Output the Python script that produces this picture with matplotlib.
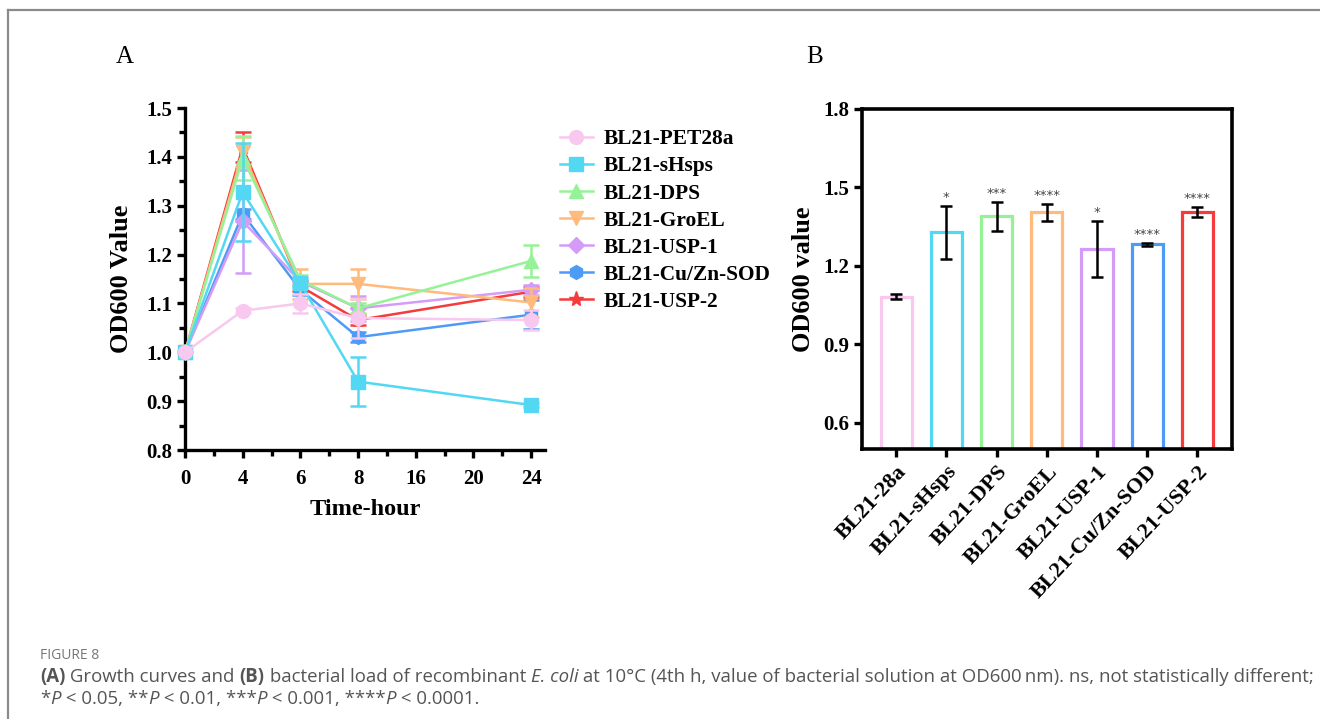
import matplotlib
matplotlib.use("Agg")
import matplotlib.pyplot as plt
import numpy as np
from matplotlib.lines import Line2D

# ---------------- data ----------------
time_labels = ["0", "4", "6", "8", "16", "20", "24"]
time_idx = [0, 1, 2, 3, 6]          # positions of measured times on categorical axis

series_names = ["BL21-PET28a", "BL21-sHsps", "BL21-DPS", "BL21-GroEL",
                "BL21-USP-1", "BL21-Cu/Zn-SOD", "BL21-USP-2"]
pet28a = [1.00, 1.085, 1.100, 1.070, 1.066]
shsps  = [1.00, 1.328, 1.141, 0.940, 0.892]
dps    = [1.00, 1.398, 1.148, 1.090, 1.187]
groel  = [1.00, 1.410, 1.140, 1.140, 1.102]
usp1   = [1.00, 1.268, 1.145, 1.090, 1.128]
sod    = [1.00, 1.283, 1.128, 1.031, 1.077]
usp2   = [1.00, 1.420, 1.135, 1.066, 1.124]

pet28a_err = [0.0, 0.005, 0.020, 0.040, 0.020]
shsps_err  = [0.0, 0.100, 0.010, 0.050, 0.005]
dps_err    = [0.0, 0.045, 0.010, 0.010, 0.032]
groel_err  = [0.0, 0.030, 0.030, 0.030, 0.030]
usp1_err   = [0.0, 0.105, 0.010, 0.025, 0.010]
sod_err    = [0.0, 0.010, 0.010, 0.010, 0.030]
usp2_err   = [0.0, 0.030, 0.010, 0.010, 0.010]

bar_labels = ["BL21-28a", "BL21-sHsps", "BL21-DPS", "BL21-GroEL",
              "BL21-USP-1", "BL21-Cu/Zn-SOD", "BL21-USP-2"]
bar_values = [1.082, 1.328, 1.390, 1.405, 1.264, 1.282, 1.406]
bar_errors = [0.010, 0.102, 0.055, 0.032, 0.106, 0.006, 0.018]
bar_sig    = ["", "*", "***", "****", "*", "****", "****"]

colors = ["#F8C8EE", "#52D8F2", "#96F296", "#FFBA7C", "#D49CF7", "#4E9BF7", "#F53B3B"]
markers = ["o", "s", "^", "v", "D", "h", "*"]
msizes = [10, 10, 10, 10, 8, 10, 11]

# ---------------- figure ----------------
W, H = 1320, 719
fig = plt.figure(figsize=(W / 100, H / 100), dpi=100)
serif = "Liberation Serif"

# frame lines (top and left)
fig.add_artist(Line2D([8/W, 1.0], [1 - 10/H, 1 - 10/H], color="#8a8a8a", lw=1.6))
fig.add_artist(Line2D([8/W, 8/W], [0.0, 1 - 10/H], color="#8a8a8a", lw=1.6))

# ---------------- panel A ----------------
axA = fig.add_axes([185/W, 1 - 450/H, (545-185)/W, (450-108)/H])
all_y = [pet28a, shsps, dps, groel, usp1, sod, usp2]
all_e = [pet28a_err, shsps_err, dps_err, groel_err, usp1_err, sod_err, usp2_err]
order = [6, 5, 4, 3, 2, 1, 0]
handles = {}
for z, i in enumerate(order):
    eb = axA.errorbar(time_idx, all_y[i], yerr=all_e[i], color=colors[i], lw=1.8,
                      marker=markers[i], markersize=msizes[i], capsize=5.5, capthick=1.8,
                      elinewidth=1.8, clip_on=False, zorder=3 + z)
    for art in eb.get_children():
        try:
            art.set_clip_on(False)
        except Exception:
            pass
    handles[i] = Line2D([], [], color=colors[i], marker=markers[i], markersize=msizes[i], lw=1.8)

axA.set_xlim(0, 6.24)
axA.set_ylim(0.8, 1.5)
axA.set_xticks(range(len(time_labels)))
axA.set_xticklabels(time_labels)
axA.set_xticks(np.arange(0.5, 6.5, 0.5), minor=True)
axA.set_yticks(np.round(np.arange(0.8, 1.51, 0.1), 1))
axA.set_yticks(np.arange(0.85, 1.5, 0.1), minor=True)
axA.yaxis.set_major_formatter(matplotlib.ticker.FormatStrFormatter("%.1f"))
for s in ["top", "right"]:
    axA.spines[s].set_visible(False)
for s in ["left", "bottom"]:
    axA.spines[s].set_linewidth(2.4)
axA.tick_params(which="major", length=6, width=2.4, direction="out")
axA.tick_params(axis="x", which="major", pad=8)
axA.tick_params(axis="y", which="major", pad=3)
axA.tick_params(which="minor", length=4, width=2.4, direction="out")
for lab in axA.get_xticklabels() + axA.get_yticklabels():
    lab.set_fontfamily(serif)
    lab.set_fontweight("bold")
    lab.set_fontsize(15)
axA.set_xlabel("Time-hour", fontfamily=serif, fontweight="bold", fontsize=17.5, labelpad=7)
axA.set_ylabel("OD600 Value", fontfamily=serif, fontweight="bold", fontsize=19, labelpad=10)

leg = fig.legend([handles[i] for i in range(7)], series_names,
                 loc="upper left", bbox_to_anchor=(554/W, 1 - 123/H),
                 frameon=False, handlelength=1.5, handletextpad=0.5, labelspacing=0.33,
                 borderaxespad=0, borderpad=0.3,
                 prop={"family": serif, "weight": "bold", "size": 15.4})

# ---------------- panel B ----------------
axB = fig.add_axes([862/W, 1 - 449/H, (1232-862)/W, (449-109)/H])
xb = np.arange(len(bar_labels))
axB.bar(xb, bar_values, width=0.62, bottom=0, fill=False, edgecolor=colors, linewidth=2.3, zorder=2)
axB.errorbar(xb, bar_values, yerr=bar_errors, fmt="none", ecolor="black",
             elinewidth=1.8, capsize=4.5, capthick=1.8, zorder=3)
for x, v, e, s in zip(xb, bar_values, bar_errors, bar_sig):
    if s:
        axB.text(x, v + e + 0.008, s, ha="center", va="bottom", fontsize=9.5,
                 color="#444444", fontfamily="DejaVu Sans")
axB.set_xlim(-0.68, 6.69)
axB.set_ylim(0.5, 1.8)
axB.set_yticks([0.6, 0.9, 1.2, 1.5, 1.8])
axB.yaxis.set_major_formatter(matplotlib.ticker.FormatStrFormatter("%.1f"))
axB.set_xticks(xb)
axB.set_xticklabels(bar_labels, rotation=47, ha="right", rotation_mode="anchor")
for s in axB.spines.values():
    s.set_linewidth(2.6)
axB.tick_params(length=6, width=2.4, direction="out", pad=3)
for lab in axB.get_yticklabels():
    lab.set_fontfamily(serif)
    lab.set_fontweight("bold")
    lab.set_fontsize(15)
for lab in axB.get_xticklabels():
    lab.set_fontfamily(serif)
    lab.set_fontweight("bold")
    lab.set_fontsize(16)
axB.set_ylabel("OD600 value", fontfamily=serif, fontweight="bold", fontsize=19, labelpad=6)

# panel letters
fig.text(125/W, 1 - 57/H, "A", fontfamily=serif, fontsize=18, ha="center", va="center")
fig.text(815/W, 1 - 57/H, "B", fontfamily=serif, fontsize=18, ha="center", va="center")

# ---------------- caption ----------------
capfont = "Open Sans"
capcol = "#555555"
fig.text(40/W, 1 - 659/H, "FIGURE 8", fontfamily=capfont, fontsize=10,
         color="#777777", va="baseline", ha="left")

renderer = fig.canvas.get_renderer()

def chain(pieces, x_px, y_px, size):
    x = x_px
    for txt, style in pieces:
        kw = dict(fontfamily=capfont, fontsize=size, color=capcol, va="baseline", ha="left")
        if style == "b":
            kw["fontweight"] = "bold"
        elif style == "i":
            kw["fontstyle"] = "italic"
        t = fig.text(x / W, 1 - y_px / H, txt, **kw)
        bb = t.get_window_extent(renderer)
        x = bb.x1

line1 = [("(A)", "b"), (" Growth curves and ", "r"), ("(B)", "b"),
         (" bacterial load of recombinant ", "r"), ("E. coli", "i"),
         (" at 10\u00b0C (4th h, value of bacterial solution at OD600\u2009nm). ns, not statistically different;", "r")]
line2 = [("*", "r"), ("P", "i"), (" < 0.05, **", "r"), ("P", "i"), (" < 0.01, ***", "r"),
         ("P", "i"), (" < 0.001, ****", "r"), ("P", "i"), (" < 0.0001.", "r")]
chain(line1, 40, 682, 13.4)
chain(line2, 40, 704, 13.4)

fig.savefig("out.png", dpi=100)
